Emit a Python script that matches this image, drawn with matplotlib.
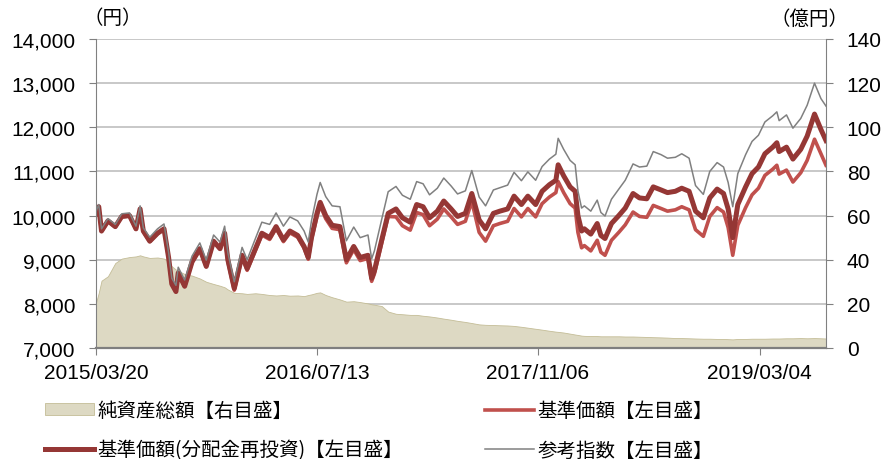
import matplotlib

matplotlib.use("Agg")
import matplotlib.pyplot as plt
import matplotlib.ticker as mticker
import pandas as pd
from matplotlib.lines import Line2D
from matplotlib.patches import Patch

# 日付 (概ね半月ごと + 目立つ山・谷)
dates = [
    "2015-03-20", "2015-03-26", "2015-04-01", "2015-04-15", "2015-05-01",
    "2015-05-15", "2015-06-01", "2015-06-15", "2015-06-24", "2015-07-01",
    "2015-07-15", "2015-08-01", "2015-08-15", "2015-08-25", "2015-09-01",
    "2015-09-10", "2015-09-15", "2015-09-29", "2015-10-15", "2015-11-01",
    "2015-11-15", "2015-12-01", "2015-12-15", "2015-12-25", "2016-01-01",
    "2016-01-15", "2016-02-01", "2016-02-12", "2016-03-01", "2016-03-15",
    "2016-04-01", "2016-04-15", "2016-05-01", "2016-05-15", "2016-06-01",
    "2016-06-15", "2016-06-24", "2016-07-01", "2016-07-13", "2016-07-20",
    "2016-08-01", "2016-08-15", "2016-09-01", "2016-09-15", "2016-10-01",
    "2016-10-15", "2016-11-01", "2016-11-09", "2016-11-15", "2016-12-01",
    "2016-12-15", "2017-01-01", "2017-01-15", "2017-02-01", "2017-02-15",
    "2017-03-01", "2017-03-15", "2017-04-01", "2017-04-15", "2017-05-01",
    "2017-05-15", "2017-06-01", "2017-06-15", "2017-07-01", "2017-07-15",
    "2017-08-01", "2017-08-15", "2017-09-01", "2017-09-15", "2017-10-01",
    "2017-10-15", "2017-11-01", "2017-11-15", "2017-12-01", "2017-12-15",
    "2017-12-20", "2018-01-01", "2018-01-15", "2018-01-26", "2018-02-01",
    "2018-02-09", "2018-02-15", "2018-03-01", "2018-03-15", "2018-03-23",
    "2018-04-01", "2018-04-15", "2018-05-01", "2018-05-15", "2018-06-01",
    "2018-06-15", "2018-07-01", "2018-07-15", "2018-08-01", "2018-08-15",
    "2018-09-01", "2018-09-15", "2018-10-01", "2018-10-15", "2018-11-01",
    "2018-11-15", "2018-12-01", "2018-12-15", "2018-12-25", "2019-01-04",
    "2019-01-15", "2019-02-01", "2019-02-15", "2019-03-01", "2019-03-15",
    "2019-04-01", "2019-04-10", "2019-04-15", "2019-05-01", "2019-05-15",
    "2019-06-01", "2019-06-15", "2019-07-01", "2019-07-15", "2019-07-26",
]

# 純資産総額 (億円, 右目盛)
net_assets = [
    20.5, 25.0, 30.5, 32.5, 38.5, 40.5, 41.2, 41.5, 42.0, 41.5,
    40.8, 41.0, 40.5, 39.0, 37.0, 35.5, 35.0, 33.5, 32.8, 31.5,
    30.0, 29.0, 28.2, 27.5, 26.5, 25.0, 24.8, 24.5, 24.8, 24.5,
    24.0, 23.8, 24.0, 23.7, 23.8, 23.5, 24.0, 24.3, 25.0, 25.2,
    24.0, 23.0, 22.0, 21.0, 21.2, 20.8, 20.2, 19.8, 19.6, 19.0,
    16.5, 15.5, 15.3, 15.0, 15.0, 14.6, 14.3, 13.8, 13.3, 12.8,
    12.3, 11.8, 11.3, 10.7, 10.5, 10.4, 10.3, 10.2, 10.0, 9.6,
    9.2, 8.7, 8.3, 7.8, 7.4, 7.3, 7.0, 6.5, 6.1, 5.9,
    5.6, 5.5, 5.4, 5.4, 5.3, 5.3, 5.3, 5.3, 5.2, 5.2,
    5.1, 5.0, 4.9, 4.8, 4.7, 4.5, 4.5, 4.4, 4.3, 4.2,
    4.2, 4.1, 4.1, 4.0, 3.9, 4.1, 4.1, 4.2, 4.2, 4.2,
    4.3, 4.3, 4.3, 4.4, 4.4, 4.5, 4.4, 4.5, 4.4, 4.3,
]

# 基準価額 (円)
nav_price = [
    10040, 10190, 9640, 9870, 9740, 9970, 9990, 9690, 10140, 9640,
    9410, 9590, 9690, 9040, 8440, 8270, 8690, 8390, 8940, 9240,
    8840, 9410, 9240, 9590, 8960, 8310, 9060, 8760, 9210, 9560,
    9460, 9710, 9410, 9610, 9510, 9260, 9010, 9460, 9980, 10230,
    9930, 9710, 9680, 8930, 9230, 8980, 9030, 8510, 8680, 9380,
    9980, 9970, 9770, 9670, 10070, 10020, 9770, 9920, 10150, 9970,
    9800, 9870, 10320, 9620, 9420, 9770, 9820, 9870, 10160, 9970,
    10160, 9970, 10270, 10420, 10520, 10770, 10520, 10270, 10170, 9620,
    9270, 9320, 9200, 9440, 9170, 9100, 9440, 9620, 9790, 10080,
    9980, 9960, 10230, 10160, 10100, 10130, 10200, 10130, 9680, 9530,
    9980, 10180, 10080, 9730, 9100, 9780, 10180, 10470, 10620, 10910,
    11050, 11140, 10940, 11030, 10760, 10970, 11250, 11730, 11400, 11140,
]

# 基準価額 (分配金再投資, 円)
nav_reinvested = [
    10050, 10200, 9650, 9880, 9750, 9980, 10000, 9700, 10150, 9650,
    9420, 9600, 9700, 9050, 8450, 8280, 8700, 8400, 8950, 9250,
    8850, 9420, 9250, 9600, 9000, 8350, 9100, 8800, 9250, 9600,
    9500, 9750, 9450, 9650, 9550, 9300, 9050, 9500, 10050, 10300,
    10000, 9780, 9750, 9000, 9300, 9050, 9100, 8580, 8750, 9450,
    10050, 10150, 9950, 9850, 10250, 10200, 9950, 10100, 10330, 10150,
    9980, 10050, 10500, 9900, 9700, 10050, 10100, 10150, 10440, 10250,
    10440, 10250, 10550, 10700, 10800, 11150, 10900, 10650, 10550, 10000,
    9650, 9700, 9580, 9820, 9550, 9480, 9820, 10000, 10170, 10500,
    10400, 10380, 10650, 10580, 10520, 10550, 10620, 10550, 10100, 9950,
    10400, 10600, 10500, 10150, 9500, 10250, 10650, 10950, 11100, 11400,
    11550, 11650, 11450, 11550, 11280, 11500, 11800, 12300, 11950, 11700,
]

# 参考指数 (円)
ref_index = [
    10090, 10250, 9700, 9930, 9800, 10040, 10060, 9760, 10220, 9720,
    9510, 9700, 9810, 9170, 8580, 8420, 8830, 8540, 9080, 9380,
    8990, 9560, 9400, 9760, 9160, 8500, 9280, 9000, 9480, 9850,
    9800, 10060, 9760, 9970, 9880, 9650, 9400, 9880, 10480, 10750,
    10430, 10220, 10200, 9430, 9740, 9500, 9560, 9020, 9200, 9920,
    10540, 10660, 10460, 10370, 10770, 10720, 10470, 10620, 10850, 10670,
    10490, 10560, 11020, 10420, 10220, 10580, 10630, 10690, 10980, 10790,
    10990, 10800, 11110, 11280, 11390, 11750, 11500, 11250, 11150, 10560,
    10170, 10220, 10100, 10350, 10070, 9990, 10370, 10600, 10800, 11170,
    11100, 11120, 11450, 11380, 11300, 11320, 11400, 11300, 10680, 10480,
    11000, 11200, 11100, 10750, 10200, 10950, 11380, 11680, 11820, 12120,
    12260, 12350, 12150, 12280, 11980, 12200, 12500, 13000, 12650, 12480,
]

tick_dates = ["2015-03-20", "2016-07-13", "2017-11-06", "2019-03-04"]
tick_labels = ["2015/03/20", "2016/07/13", "2017/11/06", "2019/03/04"]

legend_labels = [
    "純資産総額【右目盛】",
    "基準価額(分配金再投資)【左目盛】",
    "基準価額【左目盛】",
    "参考指数【左目盛】",
]

C_AREA = "#DDD9C3"
C_AREA_EDGE = "#C4BD97"
C_PRICE = "#C0504D"
C_REINV = "#953735"
C_INDEX = "#808080"
C_GRID = "#BFBFBF"
C_AXIS = "#808080"

plt.rcParams["font.family"] = ["Liberation Sans", "DejaVu Sans"]
JP = ["Noto Sans CJK JP", "DejaVu Sans"]

d = pd.to_datetime(dates)

fig = plt.figure(figsize=(8.82, 4.60), dpi=100)
ax = fig.add_axes([96 / 882, 1 - 349 / 460, 730 / 882, 309 / 460])
ax2 = ax.twinx()
ax.set_zorder(ax2.get_zorder() + 1)
ax.patch.set_visible(False)

# 純資産総額 (面)
ax2.fill_between(d, 0, net_assets, facecolor=C_AREA, edgecolor=C_AREA_EDGE, linewidth=0.6)
ax2.set_ylim(0, 140)
ax2.set_yticks(range(0, 141, 20))
ax2.yaxis.grid(True, color=C_GRID, linewidth=1.2)
ax2.set_axisbelow(True)

# 価格系列
ax.plot(d, nav_price, color=C_PRICE, linewidth=2.6)
ax.plot(d, nav_reinvested, color=C_REINV, linewidth=3.6)
ax.plot(d, ref_index, color=C_INDEX, linewidth=1.1)

ax.set_ylim(7000, 14000)
ax.set_yticks(range(7000, 14001, 1000))
ax.yaxis.set_major_formatter(mticker.StrMethodFormatter("{x:,.0f}"))
ax.set_xlim(d[0], d[-1])
ax.set_xticks(pd.to_datetime(tick_dates))
ax.set_xticklabels(tick_labels)

for s in ["top", "right"]:
    ax.spines[s].set_visible(False)
for s in ["top", "left", "bottom"]:
    ax2.spines[s].set_visible(False)
ax.spines["left"].set_color(C_AXIS)
ax.spines["bottom"].set_color("#7F7F7F")
ax.spines["bottom"].set_linewidth(1.6)
ax2.spines["right"].set_color(C_AXIS)

ax.tick_params(axis="y", direction="out", length=5, color=C_AXIS, labelsize=15, pad=10)
ax.tick_params(axis="x", direction="out", length=5, color=C_AXIS, labelsize=15, pad=6)
ax2.tick_params(axis="y", direction="out", length=5, color=C_AXIS, labelsize=15, pad=10)

fig.text(113 / 882, 1 - 19 / 460, "（円）", ha="center", va="center", fontsize=14, family=JP)
fig.text(809 / 882, 1 - 19 / 460, "（億円）", ha="center", va="center", fontsize=14, family=JP)

h_area = Patch(facecolor=C_AREA, edgecolor=C_AREA_EDGE, linewidth=0.6)
h_reinv = Line2D([], [], color=C_REINV, linewidth=3.6)
h_price = Line2D([], [], color=C_PRICE, linewidth=2.6)
h_index = Line2D([], [], color=C_INDEX, linewidth=1.1)

leg_kw = dict(
    loc="upper left", frameon=False, borderpad=0, borderaxespad=0,
    handlelength=2.5, handleheight=0.55, handletextpad=0.2, labelspacing=0.95,
    prop={"family": JP, "size": 14},
)
leg1 = fig.legend([h_area, h_reinv], legend_labels[:2],
                  bbox_to_anchor=(45 / 882, 1 - 401 / 460), **leg_kw)
leg2 = fig.legend([h_price, h_index], legend_labels[2:],
                  bbox_to_anchor=(485 / 882, 1 - 401 / 460), **leg_kw)

fig.savefig("out.png", dpi=100)
